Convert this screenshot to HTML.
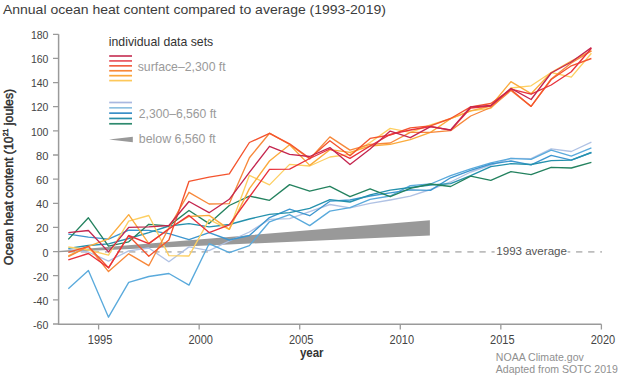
<!DOCTYPE html>
<html><head><meta charset="utf-8"><style>
html,body{margin:0;padding:0;background:#fff;width:620px;height:378px;overflow:hidden}
svg{display:block}
text{font-family:"Liberation Sans",sans-serif}
</style></head><body>
<svg width="620" height="378" viewBox="0 0 620 378">
<rect width="620" height="378" fill="#fff"/>

<text x="2.9" y="13.9" font-size="12.8" fill="#3c3c3c" textLength="383" lengthAdjust="spacingAndGlyphs">Annual ocean heat content compared to average (1993-2019)</text>
<text transform="translate(12.9,265.2) rotate(-90)" font-size="12.4" font-weight="normal" fill="#2f2f2f" stroke="#2f2f2f" stroke-width="0.45" textLength="176.4" lengthAdjust="spacingAndGlyphs">Ocean heat content (10<tspan font-size="7" dy="-4.5">21</tspan><tspan dy="4.5"> joules)</tspan></text>
<path d="M58.6 34.3 V324.3 H601.4" fill="none" stroke="#9a9a9a" stroke-width="1.5"/>
<text x="30.90" y="38.80" font-size="11.8" fill="#444" textLength="17.5" lengthAdjust="spacingAndGlyphs">180</text>
<text x="30.90" y="63.01" font-size="11.8" fill="#444" textLength="17.5" lengthAdjust="spacingAndGlyphs">160</text>
<text x="30.90" y="87.22" font-size="11.8" fill="#444" textLength="17.5" lengthAdjust="spacingAndGlyphs">140</text>
<text x="30.90" y="111.43" font-size="11.8" fill="#444" textLength="17.5" lengthAdjust="spacingAndGlyphs">120</text>
<text x="30.90" y="135.65" font-size="11.8" fill="#444" textLength="17.5" lengthAdjust="spacingAndGlyphs">100</text>
<text x="36.00" y="159.86" font-size="11.8" fill="#444" textLength="12.4" lengthAdjust="spacingAndGlyphs">80</text>
<text x="36.00" y="184.07" font-size="11.8" fill="#444" textLength="12.4" lengthAdjust="spacingAndGlyphs">60</text>
<text x="36.00" y="208.28" font-size="11.8" fill="#444" textLength="12.4" lengthAdjust="spacingAndGlyphs">40</text>
<text x="36.00" y="232.49" font-size="11.8" fill="#444" textLength="12.4" lengthAdjust="spacingAndGlyphs">20</text>
<text x="42.40" y="256.70" font-size="11.8" fill="#444" textLength="6.0" lengthAdjust="spacingAndGlyphs">0</text>
<text x="33.10" y="280.92" font-size="11.8" fill="#444" textLength="15.3" lengthAdjust="spacingAndGlyphs">-20</text>
<text x="33.10" y="305.13" font-size="11.8" fill="#444" textLength="15.3" lengthAdjust="spacingAndGlyphs">-40</text>
<text x="33.10" y="329.34" font-size="11.8" fill="#444" textLength="15.3" lengthAdjust="spacingAndGlyphs">-60</text>
<text x="100.10" y="343.9" font-size="12" fill="#444" text-anchor="middle" textLength="24.5" lengthAdjust="spacingAndGlyphs">1995</text>
<text x="200.66" y="343.9" font-size="12" fill="#444" text-anchor="middle" textLength="24.5" lengthAdjust="spacingAndGlyphs">2000</text>
<text x="301.22" y="343.9" font-size="12" fill="#444" text-anchor="middle" textLength="24.5" lengthAdjust="spacingAndGlyphs">2005</text>
<text x="401.78" y="343.9" font-size="12" fill="#444" text-anchor="middle" textLength="24.5" lengthAdjust="spacingAndGlyphs">2010</text>
<text x="502.34" y="343.9" font-size="12" fill="#444" text-anchor="middle" textLength="24.5" lengthAdjust="spacingAndGlyphs">2015</text>
<text x="602.90" y="343.9" font-size="12" fill="#444" text-anchor="middle" textLength="24.5" lengthAdjust="spacingAndGlyphs">2020</text>
<path d="M53 34.30 H58.6 M53 58.44 H58.6 M53 82.58 H58.6 M53 106.72 H58.6 M53 130.87 H58.6 M53 155.01 H58.6 M53 179.15 H58.6 M53 203.29 H58.6 M53 227.43 H58.6 M53 251.57 H58.6 M53 275.72 H58.6 M53 299.86 H58.6 M53 324.00 H58.6 M98.60 324.2 V329.4 M199.16 324.2 V329.4 M299.72 324.2 V329.4 M400.28 324.2 V329.4 M500.84 324.2 V329.4 M601.40 324.2 V329.4" stroke="#9a9a9a" stroke-width="1.3"/>
<text x="299.9" y="357.2" font-size="12" font-weight="bold" fill="#333" textLength="23.7" lengthAdjust="spacingAndGlyphs">year</text>
<text x="495.8" y="360.8" font-size="10.6" fill="#909090" textLength="88" lengthAdjust="spacingAndGlyphs">NOAA Climate.gov</text>
<text x="495.8" y="373.4" font-size="10.6" fill="#909090" textLength="122" lengthAdjust="spacingAndGlyphs">Adapted from SOTC 2019</text>
<path d="M68.7 251.9 H602" stroke="#bdbdbd" stroke-width="1.8" stroke-dasharray="6.3 5.78"/>
<rect x="494.6" y="244" width="73" height="12" fill="#fff"/>
<text x="496.3" y="254.7" font-size="11.6" fill="#555" textLength="70.6" lengthAdjust="spacingAndGlyphs">1993 average</text>
<text x="108.8" y="45.7" font-size="12.2" fill="#333" textLength="104.4" lengthAdjust="spacingAndGlyphs">individual data sets</text>
<path d="M109.2 56.00 H132" stroke="#c8385a" stroke-width="1.7"/>
<path d="M109.2 60.92 H132" stroke="#e8525e" stroke-width="1.7"/>
<path d="M109.2 65.84 H132" stroke="#f26040" stroke-width="1.7"/>
<path d="M109.2 70.76 H132" stroke="#f7883a" stroke-width="1.7"/>
<path d="M109.2 75.68 H132" stroke="#fba63a" stroke-width="1.7"/>
<path d="M109.2 80.60 H132" stroke="#fdc85a" stroke-width="1.7"/>
<text x="137.7" y="70.7" font-size="12.2" fill="#9a9a9a" textLength="88" lengthAdjust="spacingAndGlyphs">surface–2,300 ft</text>
<path d="M109.2 102.50 H132" stroke="#a9b8e0" stroke-width="1.7"/>
<path d="M109.2 107.82 H132" stroke="#8ec0e0" stroke-width="1.7"/>
<path d="M109.2 113.14 H132" stroke="#3a8fc8" stroke-width="1.7"/>
<path d="M109.2 118.46 H132" stroke="#2a8ea8" stroke-width="1.7"/>
<path d="M109.2 123.78 H132" stroke="#2e8a6e" stroke-width="1.7"/>
<text x="138.8" y="118.3" font-size="12.2" fill="#9a9a9a" textLength="77.6" lengthAdjust="spacingAndGlyphs">2,300–6,560 ft</text>
<path d="M109 139.5 L132.8 136.7 V142.2 Z" fill="#999"/>
<text x="138.8" y="143.3" font-size="12.2" fill="#9a9a9a" textLength="77" lengthAdjust="spacingAndGlyphs">below 6,560 ft</text>
<path d="M58.6 251.0 L429.9 220.3 V235.6 L58.6 252.2 Z" fill="#999"/>
<path d="M68.3 249.4 L88.4 252.0 L108.5 261.1 L128.7 250.8 L148.8 248.0 L168.9 261.8 L189.0 246.9 L209.1 250.6 L229.3 241.0 L249.4 232.0 L269.5 219.4 L289.6 218.6 L309.7 211.7 L329.9 204.5 L350.0 207.8 L370.1 203.4 L390.2 200.0 L410.3 196.2 L430.5 189.5 L450.6 182.0 L470.7 172.0 L490.8 165.0 L510.9 158.4 L531.1 158.7 L551.2 148.8 L571.3 151.5 L591.4 142.2" fill="none" stroke="#b0c2e4" stroke-width="1.35" stroke-linejoin="round"/>
<path d="M68.3 288.7 L88.4 270.4 L108.5 317.2 L128.7 282.3 L148.8 276.5 L168.9 273.5 L189.0 285.1 L209.1 243.7 L229.3 252.7 L249.4 245.6 L269.5 221.8 L289.6 214.6 L309.7 225.6 L329.9 211.1 L350.0 207.6 L370.1 199.4 L390.2 196.0 L410.3 185.6 L430.5 184.0 L450.6 175.6 L470.7 168.8 L490.8 162.9 L510.9 158.4 L531.1 159.4 L551.2 150.1 L571.3 156.1 L591.4 147.8" fill="none" stroke="#5aaadc" stroke-width="1.35" stroke-linejoin="round"/>
<path d="M68.3 234.2 L88.4 237.1 L108.5 239.2 L128.7 230.2 L148.8 230.4 L168.9 233.7 L189.0 239.6 L209.1 232.6 L229.3 240.0 L249.4 235.5 L269.5 217.6 L289.6 209.2 L309.7 215.7 L329.9 201.2 L350.0 200.0 L370.1 196.0 L390.2 192.8 L410.3 189.9 L430.5 190.4 L450.6 177.8 L470.7 170.3 L490.8 164.0 L510.9 161.0 L531.1 164.8 L551.2 155.4 L571.3 160.1 L591.4 152.5" fill="none" stroke="#3d96cf" stroke-width="1.35" stroke-linejoin="round"/>
<path d="M68.3 248.4 L88.4 245.5 L108.5 243.8 L128.7 238.5 L148.8 232.7 L168.9 226.0 L189.0 223.6 L209.1 226.8 L229.3 224.5 L249.4 219.0 L269.5 214.3 L289.6 212.6 L309.7 208.4 L329.9 199.6 L350.0 202.0 L370.1 194.8 L390.2 190.1 L410.3 187.5 L430.5 185.0 L450.6 183.6 L470.7 175.6 L490.8 166.6 L510.9 163.7 L531.1 164.5 L551.2 160.7 L571.3 160.1 L591.4 152.5" fill="none" stroke="#2591ad" stroke-width="1.35" stroke-linejoin="round"/>
<path d="M68.3 239.4 L88.4 217.8 L108.5 246.1 L128.7 241.8 L148.8 224.3 L168.9 225.9 L189.0 210.5 L209.1 223.6 L229.3 205.5 L249.4 196.1 L269.5 200.3 L289.6 184.6 L309.7 191.2 L329.9 186.3 L350.0 196.7 L370.1 188.8 L390.2 196.7 L410.3 188.3 L430.5 184.0 L450.6 186.5 L470.7 176.2 L490.8 180.4 L510.9 171.7 L531.1 174.6 L551.2 167.3 L571.3 168.0 L591.4 162.3" fill="none" stroke="#24825f" stroke-width="1.35" stroke-linejoin="round"/>
<path d="M68.3 247.0 L88.4 250.0 L108.5 255.2 L128.7 221.2 L148.8 215.5 L168.9 255.6 L189.0 256.0 L209.1 219.6 L229.3 229.4 L249.4 175.3 L269.5 184.9 L289.6 164.4 L309.7 166.0 L329.9 157.0 L350.0 154.3 L370.1 142.5 L390.2 128.4 L410.3 132.4 L430.5 125.0 L450.6 118.7 L470.7 110.8 L490.8 108.3 L510.9 88.0 L531.1 85.8 L551.2 72.5 L571.3 77.1 L591.4 53.2" fill="none" stroke="#fdcf62" stroke-width="1.35" stroke-linejoin="round"/>
<path d="M68.3 255.9 L88.4 246.4 L108.5 238.8 L128.7 214.6 L148.8 243.6 L168.9 228.5 L189.0 216.5 L209.1 215.4 L229.3 229.4 L249.4 188.6 L269.5 161.0 L289.6 144.8 L309.7 165.4 L329.9 149.7 L350.0 152.4 L370.1 146.0 L390.2 144.3 L410.3 139.7 L430.5 132.4 L450.6 118.7 L470.7 110.8 L490.8 106.0 L510.9 81.7 L531.1 93.7 L551.2 72.5 L571.3 61.0 L591.4 50.9" fill="none" stroke="#fbab3c" stroke-width="1.35" stroke-linejoin="round"/>
<path d="M68.3 256.7 L88.4 246.4 L108.5 271.6 L128.7 253.8 L148.8 265.7 L168.9 228.0 L189.0 192.3 L209.1 204.0 L229.3 203.6 L249.4 157.8 L269.5 133.2 L289.6 144.5 L309.7 159.0 L329.9 136.9 L350.0 150.1 L370.1 144.4 L390.2 143.0 L410.3 132.4 L430.5 132.4 L450.6 130.6 L470.7 116.0 L490.8 107.5 L510.9 90.5 L531.1 106.4 L551.2 79.0 L571.3 63.0 L591.4 50.9" fill="none" stroke="#f7883a" stroke-width="1.35" stroke-linejoin="round"/>
<path d="M68.3 252.3 L88.4 246.4 L108.5 267.8 L128.7 235.7 L148.8 256.2 L168.9 240.0 L189.0 181.3 L209.1 177.2 L229.3 173.9 L249.4 142.5 L269.5 133.4 L289.6 143.8 L309.7 158.2 L329.9 140.7 L350.0 155.8 L370.1 138.4 L390.2 135.0 L410.3 127.8 L430.5 125.8 L450.6 118.5 L470.7 106.8 L490.8 103.5 L510.9 89.5 L531.1 106.4 L551.2 79.5 L571.3 65.8 L591.4 58.5" fill="none" stroke="#f4542e" stroke-width="1.35" stroke-linejoin="round"/>
<path d="M68.3 259.9 L88.4 253.5 L108.5 267.8 L128.7 235.5 L148.8 243.6 L168.9 229.0 L189.0 215.4 L209.1 232.6 L229.3 224.8 L249.4 197.0 L269.5 169.4 L289.6 169.2 L309.7 158.5 L329.9 149.0 L350.0 158.3 L370.1 146.0 L390.2 134.4 L410.3 130.0 L430.5 126.5 L450.6 130.2 L470.7 108.0 L490.8 106.0 L510.9 89.2 L531.1 94.2 L551.2 85.0 L571.3 71.8 L591.4 48.2" fill="none" stroke="#e8323c" stroke-width="1.35" stroke-linejoin="round"/>
<path d="M68.3 232.7 L88.4 230.5 L108.5 251.9 L128.7 227.4 L148.8 226.9 L168.9 225.5 L189.0 201.5 L209.1 212.7 L229.3 199.3 L249.4 172.4 L269.5 146.3 L289.6 154.3 L309.7 156.5 L329.9 147.6 L350.0 164.5 L370.1 149.0 L390.2 131.1 L410.3 137.7 L430.5 126.6 L450.6 130.0 L470.7 106.8 L490.8 105.5 L510.9 88.4 L531.1 99.5 L551.2 73.0 L571.3 62.0 L591.4 47.6" fill="none" stroke="#c4264f" stroke-width="1.35" stroke-linejoin="round"/>
</svg></body></html>
